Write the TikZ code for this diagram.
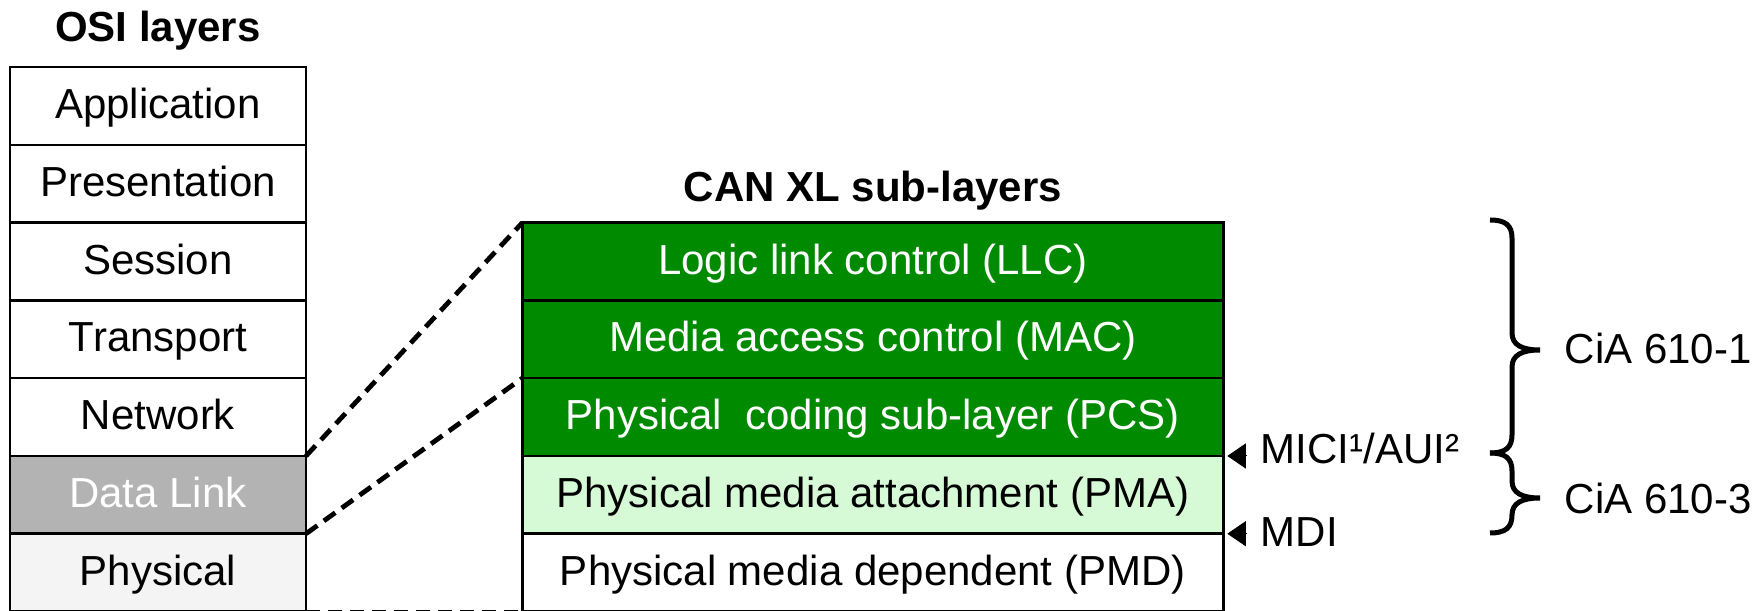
\documentclass[tikz,border=0pt]{standalone}
\usepackage{fontspec}
\setmainfont{Liberation Sans}
\usepackage{tikz}
\usetikzlibrary{arrows.meta}

\definecolor{llcgreen}{HTML}{008A00}
\definecolor{pmagreen}{HTML}{D5FAD5}
\definecolor{dlgray}{HTML}{B3B3B3}
\definecolor{phygray}{HTML}{F4F4F4}

% right brace at x=1490: top, tip and bottom y
\newcommand{\specbrace}[3]{%
  \draw[bracket] (1490,#1) .. controls (1505,#1) and (1512,#1-5) .. (1512,#1-18)
    -- (1512,#2+17) .. controls (1512,#2+5) and (1522,#2) .. (1540,#2)
    (1540,#2) .. controls (1522,#2) and (1512,#2-5) .. (1512,#2-17)
    -- (1512,#3+18) .. controls (1512,#3+5) and (1505,#3) .. (1490,#3);}

\begin{document}
\begin{tikzpicture}[x=1pt,y=1pt,node distance=77.75pt]

  \tikzstyle{layer}=[rectangle,draw,line width=2.5pt,outer sep=0pt,inner sep=0pt,
                     minimum width=296pt,minimum height=77.75pt,
                     text height=32pt,text depth=7pt,font=\fontsize{42}{50}\selectfont]
  \tikzstyle{sublayer}=[layer,minimum width=701pt]
  \tikzstyle{dlsub}=[sublayer,fill=llcgreen,text=white]
  \tikzstyle{heading}=[font=\fontsize{42}{50}\selectfont\bfseries,inner sep=0pt,anchor=base]
  \tikzstyle{ifname}=[font=\fontsize{42}{50}\selectfont,inner sep=0pt,anchor=base west]
  \tikzstyle{zoomline}=[line width=4.8pt,dash pattern=on 14pt off 8pt]
  \tikzstyle{iface}=[line width=1pt,-{Triangle[length=18.5pt,width=25pt]},
                     shorten <=14.5pt,shorten >=4pt]
  \tikzstyle{bracket}=[line width=5pt]

  \useasboundingbox (0,0) rectangle (1763,610);

  % OSI stack
  \node[heading] (osihead) at (158,568.3) {OSI layers};
  \node[layer] (app) at (158,503.9) {Application};
  \node[layer] (pres) [below of=app] {Presentation};
  \node[layer] (sess) [below of=pres] {Session};
  \node[layer] (trans) [below of=sess] {Transport};
  \node[layer] (net) [below of=trans] {Network};
  \node[layer,fill=dlgray,text=white] (dl) [below of=net] {Data Link};
  \node[layer,fill=phygray] (phy) [below of=dl] {Physical};

  % CAN XL stack
  \node[heading] (canhead) at (872.8,408.3) {CAN XL sub-layers};
  \node[dlsub] (llc) [node distance=714.8pt,right of=sess] {Logic link control (LLC)};
  \node[dlsub] (mac) [below of=llc] {Media access control (MAC)};
  \node[dlsub] (pcs) [below of=mac] {Physical~\ coding sub-layer (PCS)};
  \node[sublayer,fill=pmagreen] (pma) [below of=pcs] {Physical media attachment (PMA)};
  \node[sublayer] (pmd) [below of=pma] {Physical media dependent (PMD)};

  \draw[zoomline] (net.south east) -- (llc.north west);
  \draw[zoomline] (dl.south east) -- (pcs.north west);
  \draw[zoomline,line width=3pt] (phy.south east) -- (pmd.south west);

  % interfaces
  \node[ifname] (mici) at (1260.5,146.7) {MICI¹/AUI²};
  \node[ifname] (mdi) at (1260.5,63.3) {MDI};
  \draw[iface] (pcs.south east -| mici.west) -- (pcs.south east);
  \draw[iface] (pma.south east -| mdi.west) -- (pma.south east);

  % specifications
  \specbrace{390}{260}{157}
  \specbrace{157}{112}{77}
  \node[ifname] (cia1) at (1564.7,246.7) {CiA 610-1};
  \node[ifname] (cia3) at (1564.7,96) {CiA 610-3};
\end{tikzpicture}
\end{document}
